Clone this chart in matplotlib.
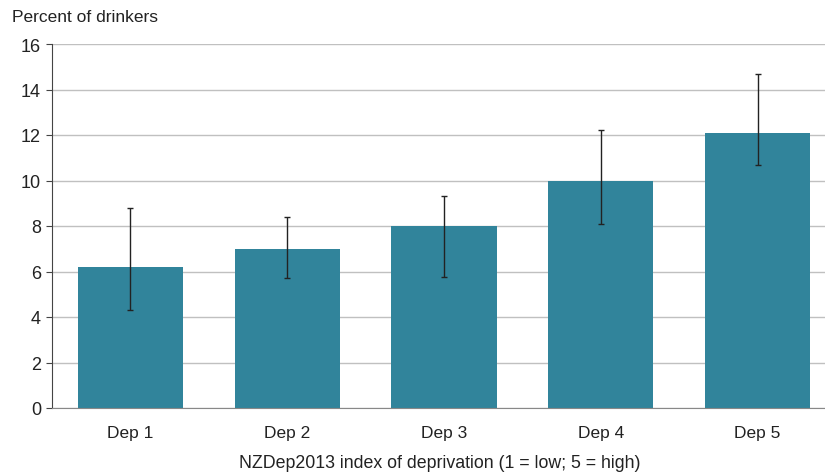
import matplotlib
matplotlib.use("Agg")
import matplotlib.pyplot as plt
import numpy as np

categories = ["Dep 1", "Dep 2", "Dep 3", "Dep 4", "Dep 5"]
values = [6.2, 7.0, 8.0, 10.0, 12.1]
ci_low = [4.3, 5.7, 5.75, 8.1, 10.7]
ci_high = [8.8, 8.4, 9.3, 12.2, 14.7]
yticks = [0, 2, 4, 6, 8, 10, 12, 14, 16]

plt.rcParams['font.family'] = ['Liberation Sans', 'DejaVu Sans']

fig = plt.figure(figsize=(8.25, 4.77), dpi=100)
W, H = 825, 477
left, right, bottom, top = 52, 836, 409, 45
ax = fig.add_axes([left / W, 1 - bottom / H, (right - left) / W, (bottom - top) / H])

x = np.arange(len(categories))
vals = np.array(values)
yerr = np.array([vals - np.array(ci_low), np.array(ci_high) - vals])
ax.bar(x, vals, width=0.67, color="#31849B", zorder=2)
ax.errorbar(x, vals, yerr=yerr, fmt="none", ecolor="#222222", elinewidth=1.0,
            capsize=2.5, capthick=1.0, zorder=3)

ax.set_xlim(-0.5, len(categories) - 0.5)
ax.set_ylim(0, 16)
ax.set_yticks(yticks)
ax.set_yticklabels([str(t) for t in yticks], fontsize=13, color="#222222")
ax.set_xticks(x)
ax.set_xticklabels(categories, fontsize=12.5, color="#222222")
ax.tick_params(axis="x", length=0, pad=12)
ax.tick_params(axis="y", length=4, direction="out", color="#444444", pad=4)
ax.grid(axis="y", color="#c0c0c0", linewidth=1.0, zorder=0)
ax.set_axisbelow(True)
for s in ["top", "right"]:
    ax.spines[s].set_visible(False)
ax.spines["left"].set_color("#444444")
ax.spines["bottom"].set_color("#888888")

fig.text(12 / W, 1 - 18 / H, "Percent of drinkers", fontsize=12.5, color="#222222",
         ha="left", va="center")
fig.text(440 / W, 1 - 464 / H, "NZDep2013 index of deprivation (1 = low; 5 = high)",
         fontsize=12.8, color="#222222", ha="center", va="center")

fig.savefig("out.png", dpi=100)
